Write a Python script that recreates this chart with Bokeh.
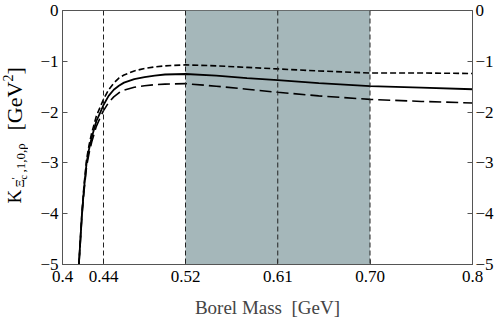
from bokeh.plotting import figure
from bokeh.layouts import row
from bokeh.models import LinearAxis, FixedTicker, BoxAnnotation, Span, Range1d
from bokeh.core.properties import value
from bokeh.embed import file_html
from bokeh.resources import INLINE
import math

# ---- data ----
borel = [0.416, 0.4175, 0.419, 0.421, 0.4235, 0.426, 0.4285, 0.433, 0.437, 0.440, 0.445,
         0.450, 0.455, 0.460, 0.470, 0.480, 0.490, 0.500, 0.520, 0.550, 0.580, 0.610,
         0.650, 0.700, 0.750, 0.800]
k_central = [-5.0, -4.5, -4.0, -3.5, -3.0, -2.72, -2.5, -2.18, -2.0, -1.86, -1.68,
             -1.56, -1.48, -1.42, -1.35, -1.31, -1.28, -1.26, -1.25, -1.28, -1.33, -1.37,
             -1.43, -1.49, -1.52, -1.55]
k_upper = [-5.0, -4.47, -3.96, -3.44, -2.93, -2.64, -2.41, -2.08, -1.89, -1.75, -1.56,
           -1.43, -1.33, -1.27, -1.19, -1.14, -1.11, -1.09, -1.07, -1.09, -1.12, -1.15,
           -1.19, -1.23, -1.23, -1.24]
k_lower = [-5.0, -4.53, -4.04, -3.56, -3.07, -2.8, -2.59, -2.28, -2.1, -1.97, -1.81,
           -1.70, -1.62, -1.57, -1.51, -1.48, -1.46, -1.45, -1.44, -1.49, -1.55, -1.61,
           -1.68, -1.75, -1.79, -1.82]
x_ticks = [0.4, 0.44, 0.52, 0.61, 0.70, 0.8]
x_tick_labels = ["0.4", "0.44", "0.52", "0.61", "0.70", "0.8"]
y_ticks = [0, -1, -2, -3, -4, -5]
window_lo, window_hi = 0.52, 0.70
marker_lines = [0.44, 0.52, 0.61, 0.70]

FONT = "Liberation Serif"
GRAY = "#555555"
FW, FH = 410, 254
TOP, BOT = 10, 56
LW = 28

p = figure(frame_width=FW, frame_height=FH, output_backend="svg", toolbar_location=None,
           x_range=Range1d(0.4, 0.8), y_range=Range1d(-5, 0),
           min_border_left=34, min_border_right=20, min_border_top=TOP, min_border_bottom=BOT)
p.grid.visible = False
p.outline_line_color = GRAY
p.outline_line_width = 1
p.background_fill_color = "white"
p.border_fill_color = "white"

p.add_layout(BoxAnnotation(left=window_lo, right=window_hi, fill_color="#a5b7ba",
                           fill_alpha=1.0, line_alpha=0, level="underlay"))
for xv in marker_lines:
    p.add_layout(Span(location=xv, dimension="height", line_color="#222222",
                      line_width=1, line_dash="5 3"))

p.line(borel, k_upper, line_color="black", line_width=1.6, line_dash="6 3")
p.line(borel, k_central, line_color="black", line_width=1.8)
p.line(borel, k_lower, line_color="black", line_width=1.6, line_dash="12 5")

def style_axis(ax):
    ax.axis_line_color = GRAY
    ax.major_tick_line_color = GRAY
    ax.major_tick_in = 5
    ax.major_tick_out = 0
    ax.minor_tick_line_color = None
    ax.major_label_text_font = FONT
    ax.major_label_text_font_size = "17px"
    ax.major_label_text_color = "black"

xa = p.xaxis[0]
xa.ticker = FixedTicker(ticks=x_ticks)
xa.major_label_overrides = {t: s for t, s in zip(x_ticks, x_tick_labels)}
style_axis(xa)
xa.major_label_standoff = 6
xa.axis_label = "Borel Mass\u00a0 [GeV]"
xa.axis_label_text_font = FONT
xa.axis_label_text_font_size = "19px"
xa.axis_label_text_font_style = "normal"
xa.axis_label_standoff = 12

ya = p.yaxis[0]
ya.ticker = FixedTicker(ticks=y_ticks)
style_axis(ya)
ya.major_label_standoff = 4

yr = LinearAxis(ticker=FixedTicker(ticks=y_ticks))
style_axis(yr)
yr.major_label_standoff = 3
p.add_layout(yr, "right")

# narrow side panel holding the rotated y-axis title
# x in pixels, y in the same data units as the main plot (frames share height)
side = figure(frame_width=LW, frame_height=FH, output_backend="svg", toolbar_location=None,
              x_range=Range1d(0, LW), y_range=Range1d(-5, 0),
              min_border_left=0, min_border_right=0,
              min_border_top=TOP, min_border_bottom=BOT)
side.axis.visible = False
side.grid.visible = False
side.outline_line_color = None
side.background_fill_color = "white"
side.border_fill_color = "white"

def ylab(text, wx, wy, size):
    # wx, wy: pixel position in the reference (centre line, start of text)
    yd = -5.0 * (wy - TOP) / FH
    side.text(x=[wx], y=[yd], text=[text], angle=math.pi / 2,
              text_align="left", text_baseline="middle",
              text_font=value(FONT), text_font_size=f"{size}px", text_color="black")

ylab("K", 13.5, 203, 19)
ylab("Ξ", 18.5, 187, 13)
ylab("′", 14.5, 179, 11)
ylab("c", 22.5, 179, 10)
ylab(",1,0,ρ", 19.5, 172, 13)
ylab("[GeV", 14, 130, 22)
ylab("2", 7.5, 81, 14)
ylab("]", 14, 74, 22)

layout = row(side, p)
open("out.html", "w").write(file_html(layout, INLINE))
